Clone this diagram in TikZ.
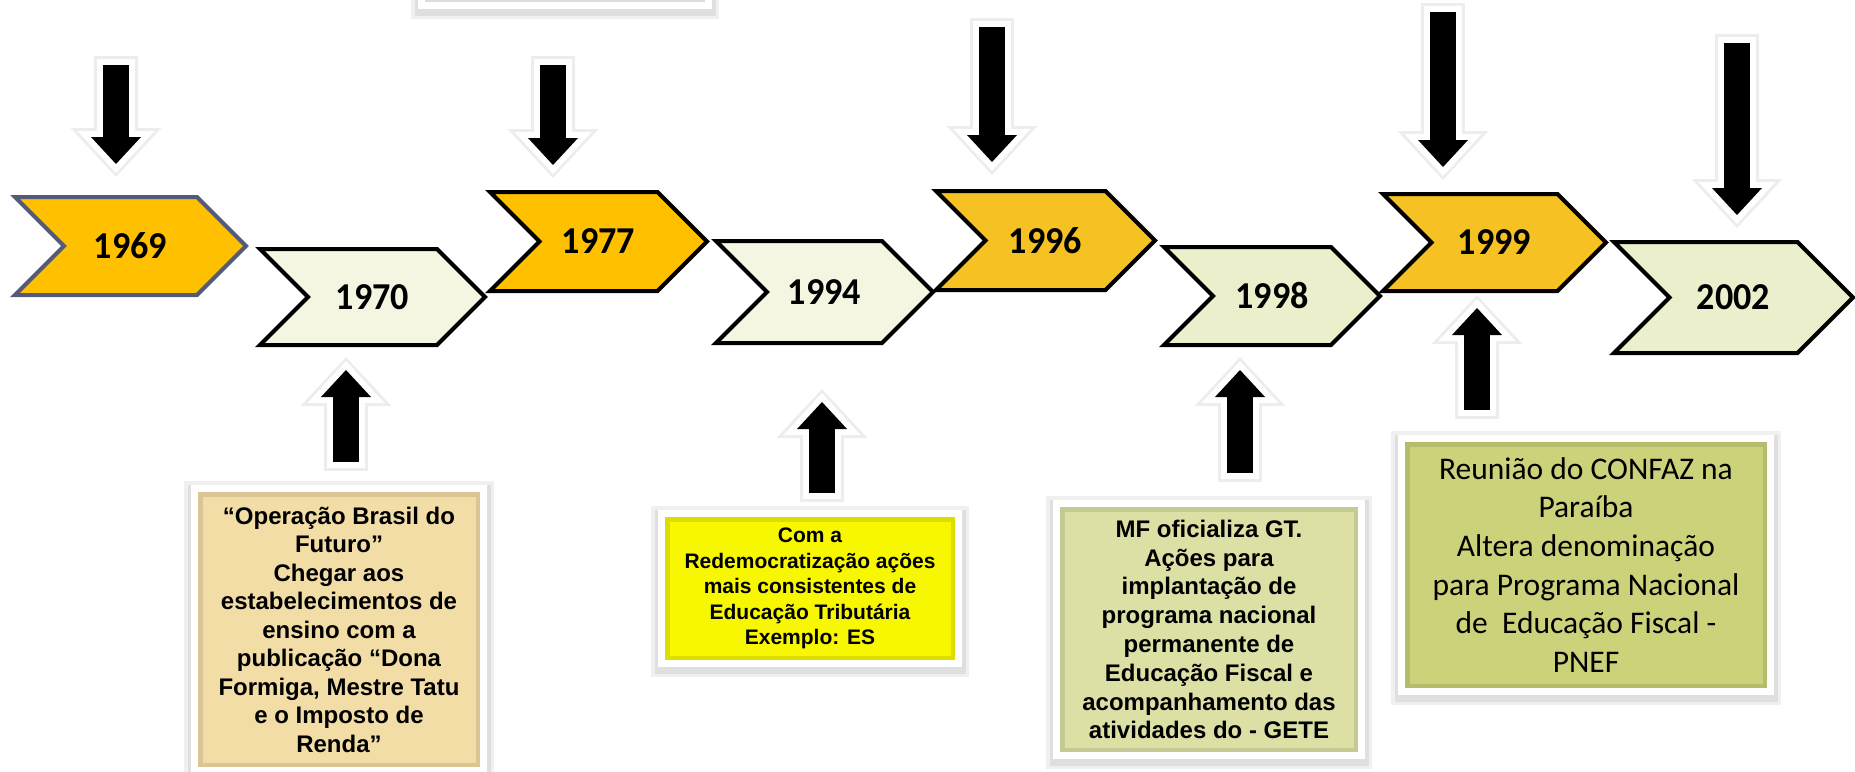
\documentclass[tikz,border=0pt]{standalone}
\usepackage{fontspec}
\setmainfont{Liberation Sans}
\newfontfamily\calibri{Carlito}
\newfontfamily\yearfont[FakeStretch=0.95]{Carlito}
\usetikzlibrary{shapes.symbols, arrows.meta}

\definecolor{gold}{HTML}{FFC000}
\definecolor{amber}{HTML}{F6C123}
\definecolor{cream}{HTML}{F4F6E2}
\definecolor{pale}{HTML}{EBEFCB}
\definecolor{slate}{HTML}{545B7A}
\definecolor{wheat}{HTML}{F3DDA6}
\definecolor{lemon}{HTML}{F7F700}
\definecolor{sage}{HTML}{DCE0A5}
\definecolor{olive}{HTML}{CCD27A}

\begin{document}
\begin{tikzpicture}[x=1pt, y=-1pt,
        year/.style={signal, signal from=west, signal to=east, signal pointer angle=90,
          draw=black, line width=4pt, inner sep=0pt,
          font=\yearfont\bfseries\fontsize{38}{40}\selectfont},
        note/.style={rectangle, draw=white, line width=7pt, inner sep=0pt, align=center,
          preaction={draw=black, opacity=0.06, line width=21pt, transform canvas={yshift=-3pt}},
          preaction={draw=black, opacity=0.07, line width=14pt, transform canvas={yshift=-3pt}},
          path picture={\draw[black, opacity=0.1, line width=16pt]
            (path picture bounding box.north west) rectangle (path picture bounding box.south east);}},
        fat/.style={draw=black, line width=26pt, shorten >=#1,
          -{Triangle[width=50pt, length=27pt, line width'=0pt]},
          preaction={draw=black!7, line width=44pt, shorten >=#1-13, shorten <=-9,
            -{Triangle[width=91pt, length=49pt, line width'=0pt]}},
          preaction={draw=white, line width=38pt, shorten >=#1-9, shorten <=-6,
            -{Triangle[width=77pt, length=42pt, line width'=0pt]}}}]
        \useasboundingbox (0,0) rectangle (1855,771);

        % box cut off at the top
        \node[note, fill=white!94!gray, minimum width=287pt, minimum height=120pt] (btop) at (565,-54.5) {};

        % timeline
        \node[year, fill=gold, draw=slate, minimum width=231pt, minimum height=98pt] (y1969) at (130.5,246) {1969};
        \node[year, fill=cream, minimum width=225pt, minimum height=96pt] (y1970) at (372.5,297) {1970};
        \node[year, fill=gold, minimum width=217pt, minimum height=99pt] (y1977) at (598.5,241.5) {1977};
        \node[year, fill=cream, minimum width=217pt, minimum height=102pt] (y1994) at (824.5,292) {1994};
        \node[year, fill=amber, minimum width=219pt, minimum height=99pt] (y1996) at (1045.5,240.5) {1996};
        \node[year, fill=pale, minimum width=216pt, minimum height=98pt] (y1998) at (1272,296) {1998};
        \node[year, fill=amber, minimum width=223pt, minimum height=97pt] (y1999) at (1494.5,242.5) {1999};
        \node[year, fill=pale, minimum width=239pt, minimum height=111pt] (y2002) at (1733.5,297.5) {2002};

        % notes below
        \node[note, fill=wheat, minimum width=289pt, minimum height=282pt,
          font=\bfseries\fontsize{24}{28.5}\selectfont] (b1970) at (339,629.5)
          {“Operação Brasil do\\Futuro”\\Chegar aos\\estabelecimentos de\\ensino com a\\publicação “Dona\\Formiga, Mestre Tatu\\e o Imposto de\\Renda”};
        \node[note, fill=lemon, minimum width=297pt, minimum height=150pt,
          font=\bfseries\fontsize{21}{25.4}\selectfont] (b1994) at (810,588.5)
          {Com a\\Redemocratização ações\\mais consistentes de\\Educação Tributária\\Exemplo: ES};
        \node[note, fill=sage, minimum width=305pt, minimum height=252pt,
          font=\bfseries\fontsize{24}{28.8}\selectfont] (b1998) at (1209,629.5)
          {MF oficializa GT.\\Ações para\\implantação de\\programa nacional\\permanente de\\Educação Fiscal e\\acompanhamento das\\atividades do - GETE};
        \node[note, fill=olive, minimum width=369pt, minimum height=253pt,
          font=\calibri\fontsize{31.5}{38.7}\selectfont] (b1999) at (1586,565)
          {Reunião do CONFAZ na\\Paraíba\\Altera denominação\\para Programa Nacional\\de\ \ Educação Fiscal -\\PNEF};

        % arrow tails
        \coordinate (d1969) at (116,65);
        \coordinate (d1977) at (553,65);
        \coordinate (d1996) at (992,27);
        \coordinate (d1999) at (1443,12);
        \coordinate (d2002) at (1737,43);
        \coordinate (u1970) at (346,462);
        \coordinate (u1994) at (822,493);
        \coordinate (u1998) at (1240,473);
        \coordinate (u1999) at (1477,410);

        \path
        (d1969) edge[fat=31] (d1969 |- y1969.north)
        (d1977) edge[fat=25] (d1977 |- y1977.north)
        (d1996) edge[fat=27] (d1996 |- y1996.north)
        (d1999) edge[fat=25] (d1999 |- y1999.north)
        (d2002) edge[fat=25] (d2002 |- y2002.north)
        (u1970) edge[fat=23] (u1970 |- y1970.south)
        (u1994) edge[fat=57] (u1994 |- y1994.south)
        (u1998) edge[fat=23] (u1998 |- y1998.south)
        (u1999) edge[fat=15] (u1999 |- y1999.south);
    \end{tikzpicture}
\end{document}
